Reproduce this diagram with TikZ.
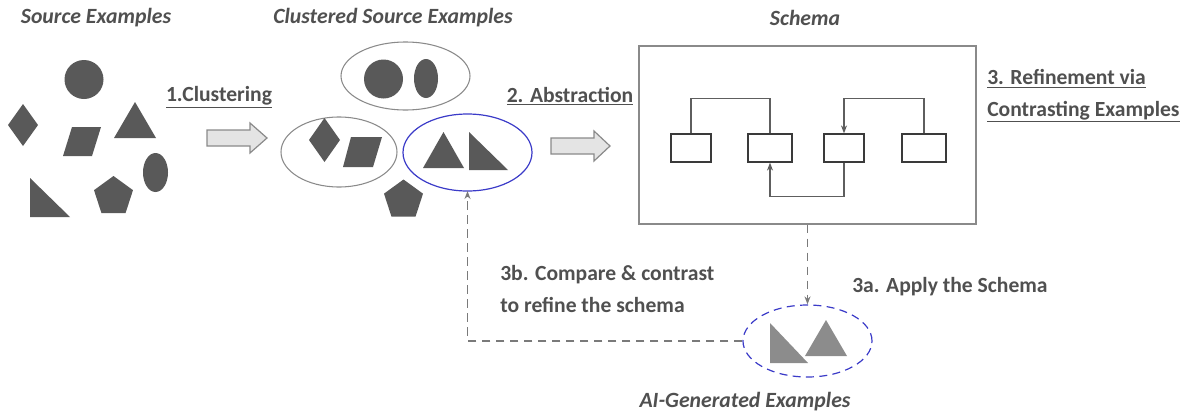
\documentclass[tikz,border=0pt]{standalone}
\usepackage{fontspec}
\setmainfont{Carlito}
\usetikzlibrary{shapes.geometric,arrows.meta,calc}
\definecolor{txt}{HTML}{505050}
\definecolor{shp}{HTML}{595959}
\definecolor{lshp}{HTML}{8C8C8C}
\definecolor{bl}{HTML}{3B3BC8}
\definecolor{frm}{HTML}{8A8A8A}
\definecolor{dsh}{HTML}{7A7A7A}
\definecolor{connc}{HTML}{5E5E5E}
\definecolor{boxc}{HTML}{3A3A3A}
\definecolor{arrfill}{HTML}{E4E4E4}
\begin{document}
\begin{tikzpicture}[x=0.75pt,y=-0.75pt,
  title/.style={font=\fontsize{16.3}{18}\selectfont\bfseries\itshape, text=txt, inner sep=0},
  lab/.style={font=\fontsize{16.2}{23.5}\selectfont\bfseries, text=txt, inner sep=0, align=left},
  cluster/.style={ellipse, draw=frm, line width=0.8pt, inner sep=0, outer sep=0},
  bluecl/.style={ellipse, draw=bl, line width=0.9pt, inner sep=0, outer sep=0},
  inbox/.style={rectangle, draw=boxc, line width=0.9pt, inner sep=0, minimum height={28*0.75pt}},
  conn/.style={draw=connc, line width=1pt},
  tip/.style={-{Stealth[length=6pt,width=4.5pt]}},
  dashc/.style={draw=dsh, line width=1.3pt, dash pattern=on 6.5pt off 4pt},
  blockarrow/.style={draw=frm, fill=arrfill, line width=0.9pt, line join=miter},
  pent/.style={regular polygon, regular polygon sides=5, fill=shp, inner sep=0, outer sep=0, minimum size={41*0.75pt}}
]
\useasboundingbox (0,0) rectangle (1189,418);

% titles
\node[title] (t1) at (96,18) {Source Examples};
\node[title] (t2) at (393,18) {Clustered Source Examples};
\node[title] (t3) at (805,18) {Schema};
\node[title] (t4) at (745,402) {AI-Generated Examples};

% source examples
\fill[shp] (84,79.5) ellipse[x radius=19.5, y radius=19.5];
\fill[shp] (23,104) -- (38,125) -- (23,146) -- (8,125) -- cycle;
\fill[shp] (72,127) -- (101,127) -- (92,156) -- (63,156) -- cycle;
\fill[shp] (135,102) -- (156,138) -- (114,138) -- cycle;
\fill[shp] (155.5,172.5) ellipse[x radius=12.5, y radius=19.5];
\fill[shp] (30,178) -- (70,217) -- (30,217) -- cycle;
\node[pent] (p1) at (113.5,196.5) {};

% arrow 1
\draw[blockarrow] (207,130) -- (250,130) -- (250,123) -- (267,138) -- (250,153) -- (250,146) -- (207,146) -- cycle;
\node[lab] (l1) at (219,97) {\underline{1.Clustering}};

% clusters
\node[cluster, minimum width={129*0.75pt}, minimum height={68*0.75pt}] (ctop) at (405.5,76) {};
\fill[shp] (383.5,79) ellipse[x radius=19.5, y radius=19.5];
\fill[shp] (426,78.5) ellipse[x radius=12, y radius=19.5];

\node[cluster, minimum width={116*0.75pt}, minimum height={70*0.75pt}] (cleft) at (339,152) {};
\fill[shp] (324.5,118) -- (340,140) -- (324.5,162) -- (309,140) -- cycle;
\fill[shp] (351,137) -- (382,137) -- (373,167) -- (343,167) -- cycle;

\node[bluecl, minimum width={129*0.75pt}, minimum height={77*0.75pt}] (cblue) at (467.5,152.5) {};
\fill[shp] (443.5,132) -- (464,168) -- (423,168) -- cycle;
\fill[shp] (469,132) -- (508,170) -- (469,170) -- cycle;

\node[pent] (p2) at (403.5,200) {};

% arrow 2
\draw[blockarrow] (551,138) -- (594,138) -- (594,131) -- (610,146) -- (594,161) -- (594,154) -- (551,154) -- cycle;
\node[lab] (l2) at (570,96) {\underline{2. Abstraction}};

% schema
\node[rectangle, draw=frm, line width=1.1pt, inner sep=0, minimum width={337*0.75pt}, minimum height={178*0.75pt}] (schema) at (807.5,135) {};
\node[inbox, minimum width={40*0.75pt}] (b1) at (691,148) {};
\node[inbox, minimum width={44*0.75pt}] (b2) at (770,148) {};
\node[inbox, minimum width={40*0.75pt}] (b3) at (844,148) {};
\node[inbox, minimum width={44*0.75pt}] (b4) at (924,148) {};
\draw[conn] (b1.north) -- ++(0,-35) -| (b2.north);
\draw[conn, tip] (b4.north) -- ++(0,-35) -| (b3.north);
\draw[conn, tip] (b3.south) -- ++(0,34) -| (b2.south);

\node[lab, anchor=west] (l3) at (987,96) {\underline{3. Refinement via}\\\underline{Contrasting Examples}};

% AI generated
\node[ellipse, draw=bl, line width=0.9pt, dash pattern=on 6pt off 4pt, inner sep=0, minimum width={129*0.75pt}, minimum height={72*0.75pt}] (ai) at (807.5,341) {};
\fill[lshp] (770,323) -- (808,363) -- (770,363) -- cycle;
\fill[lshp] (826,320) -- (847,356) -- (805,356) -- cycle;

\draw[dashc, tip] (schema.south) -- (ai.north);
\draw[dashc, tip] (ai.west) -| (cblue.south);

\node[lab, anchor=west] (l3b) at (500,289) {3b. Compare \& contrast\\to refine the schema};
\node[lab, anchor=west] (l3a) at (852,287) {3a. Apply the Schema};
\end{tikzpicture}
\end{document}
